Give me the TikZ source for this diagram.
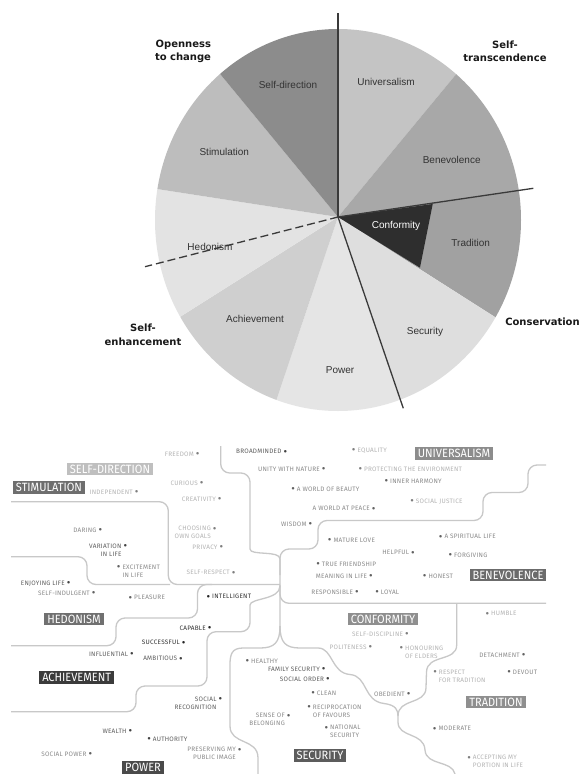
\documentclass[tikz,border=0pt]{standalone}
\usepackage{fontspec}
\setmainfont{Liberation Sans}
\newfontfamily\headfont{DejaVu Sans}
\newfontfamily\mapfont[LetterSpace=4]{Fira Sans}
\newfontfamily\tagfont[FakeStretch=0.92]{Fira Sans}

\definecolor{pieline}{HTML}{3A3A3A}
\definecolor{linegray}{HTML}{C8C8C8}
\definecolor{vlight}{HTML}{B4B4B4}
\definecolor{vmid}{HTML}{8A8A8A}
\definecolor{vdark}{HTML}{5E5E5E}
\definecolor{vblack}{HTML}{333333}

\newcommand{\mapdot}{\raisebox{-1.3pt}{\color{.!70!black}\fontsize{11}{11}\selectfont\textbullet}}
\newcommand{\rdot}{\rlap{\hspace{2pt}\mapdot}}
\newcommand{\ldot}{\llap{\mapdot\hspace{2pt}}}

\tikzset{
  pielbl/.style={font=\fontsize{10}{12}\selectfont, text=black!80},
  grouplbl/.style={font=\headfont\bfseries\fontsize{10}{13.5}\selectfont, text=black!90},
  tagbox/.style={fill=#1, text=white, font=\tagfont\fontsize{12}{12}\selectfont, inner xsep=3pt, inner ysep=2pt},
  val/.style={font=\mapfont\fontsize{6.4}{8}\selectfont, inner sep=0pt},
  route/.style={draw=linegray, line width=1.3pt, rounded corners=9pt},
  divider/.style={draw=pieline, line width=1.3pt},
}

\begin{document}
\begin{tikzpicture}[x=1pt, y=-1pt]
    \path[use as bounding box, fill=white] (0,0) rectangle (582,774);

    % Pie
    \coordinate (ctr) at (338,217);
    \begin{scope}
        \clip (338,220) ellipse [x radius=183, y radius=191];
        \foreach \a/\b/\col in {-90/-50.4/black!23, -50.4/-8.3/black!34, -8.3/32.5/black!37,
                                32.5/71.1/black!13, 71.1/108.6/black!10, 108.6/147.7/black!19,
                                147.7/188.8/black!11, 188.8/230.5/black!26, 230.5/270/black!45}
            \fill[\col] (ctr) -- ++(\a:260) arc[start angle=\a, end angle=\b, radius=260] -- cycle;
        \fill[black!82] (ctr) -- (432.7,204) -- (420,267.7) -- cycle;
    \end{scope}

    % Dividing lines
    \draw[divider] (338,13) -- (ctr);
    \draw[divider] (ctr) -- (533.3,188.3);
    \draw[divider] (ctr) -- (403.3,408.3);
    \draw[divider, dash pattern=on 8pt off 4pt] (ctr) -- (145,266.7);

    % Sector labels
    \node[pielbl] (pSelfdir) at (288,85) {Self-direction};
    \node[pielbl] (pUniv) at (386,82) {Universalism};
    \node[pielbl] (pBenev) at (451.7,160) {Benevolence};
    \node[pielbl, text=white] (pConf) at (396,226) {Conformity};
    \node[pielbl] (pTrad) at (470.7,242.7) {Tradition};
    \node[pielbl] (pSecur) at (425,331.7) {Security};
    \node[pielbl] (pPower) at (340,370) {Power};
    \node[pielbl] (pAchiev) at (255,319.3) {Achievement};
    \node[pielbl] (pHedon) at (210,246.7) {Hedonism};
    \node[pielbl] (pStim) at (224.3,151.7) {Stimulation};

    % Higher order labels
    \node[grouplbl, align=right] (gOpen) at (183,51.5) {Openness\\to change};
    \node[grouplbl, align=center] (gTrans) at (505,51.5) {Self-\\transcendence};
    \node[grouplbl] (gCons) at (542.5,321.7) {Conservation};
    \node[grouplbl, align=center] (gEnh) at (143,335) {Self-\\enhancement};

    % Map boundaries
    \draw[route] (11,501.7) -| (168.3,584.5) -- (280,584.5);
    \draw[route] (11,556.7) -| (87,584.5) -- (170,584.5);
    \draw[route] (212,584.5) -| (197.5,618) -| (116,645.7) -- (11,645.7);
    \draw[route] (280,586) .. controls (280,600) and (250,598) .. (250,614) |- (207,631.7) |- (136,686) |- (11,711.7);
    \draw[route] (220.7,446) |- (250,473) -- (250,540) .. controls (250,556) and (280,550) .. (280,568) -- (280,630);
    \draw[route] (280,575) |- (318,549) |- (483,520.5) |- (528,492.5) |- (546,465);
    \draw[route] (280,585) |- (546,603.3);
    \draw[route, sharp corners] (456.7,603.3) -- (456.7,645) .. controls (456.7,662) and (427,654) .. (426.5,672)
        -- (426,688) .. controls (425.5,705) and (398,698) .. (398,716) -- (398,722)
        .. controls (398,738) and (424,732) .. (425,750) .. controls (426,766) and (452,760) .. (455,774);
    \draw[route, sharp corners] (280,626) .. controls (280,643) and (286,648) .. (300,648) -- (318,648)
        .. controls (333,648) and (331,673) .. (350,674.5) .. controls (368,676) and (363,701) .. (384,703.5)
        .. controls (396,705) and (398,710) .. (398,716);
    \draw[route, sharp corners] (280,626) .. controls (280,643) and (274,648) .. (260,648) -- (243,648)
        .. controls (232,648) and (230,654) .. (230,665) -- (230,726)
        .. controls (230,745) and (258,738) .. (258,758) -- (258,774);

    % Value group tags
    \node[tagbox=black!25] (tSelfdir) at (110,469) {SELF-DIRECTION};
    \node[tagbox=black!57] (tStim) at (49,487.7) {STIMULATION};
    \node[tagbox=black!45] (tUniv) at (454,453.7) {UNIVERSALISM};
    \node[tagbox=black!58] (tBenev) at (508,575) {BENEVOLENCE};
    \node[tagbox=black!56] (tHedon) at (74,619) {HEDONISM};
    \node[tagbox=black!77] (tAchiev) at (76.7,677.5) {ACHIEVEMENT};
    \node[tagbox=black!44] (tConf) at (383,619) {CONFORMITY};
    \node[tagbox=black!64] (tSecur) at (320,755.7) {SECURITY};
    \node[tagbox=black!44] (tTrad) at (496,702) {TRADITION};
    \node[tagbox=black!71] (tPower) at (143,767.5) {POWER};

    % Values, dot after the text
    \node[val, vlight, anchor=east] (freedom) at (194,455) {FREEDOM\rdot};
    \node[val, vlight, anchor=east] (independent) at (133,492.7) {INDEPENDENT\rdot};
    \node[val, vlight, anchor=east] (curious) at (198,484) {CURIOUS\rdot};
    \node[val, vlight, anchor=east] (creativity) at (216,500) {CREATIVITY\rdot};
    \node[val, vlight, anchor=north east, align=right] (goals) at (211,526.1) {CHOOSING\rdot\\OWN GOALS};
    \node[val, vlight, anchor=east] (privacy) at (217.7,547.7) {PRIVACY\rdot};
    \node[val, vlight, anchor=east] (selfrespect) at (230,573.3) {SELF-RESPECT\rdot};
    \node[val, vmid, anchor=east] (daring) at (96.7,530.7) {DARING\rdot};
    \node[val, vdark, anchor=north east, align=right] (variation) at (121.7,543.8) {VARIATION\rdot\\IN LIFE};
    \node[val, vdark, anchor=east] (enjoying) at (65,584) {ENJOYING LIFE\rdot};
    \node[val, vmid, anchor=east] (indulgent) at (90,594) {SELF-INDULGENT\rdot};
    \node[val, vdark, anchor=east] (broadminded) at (281.7,452.3) {BROADMINDED\rdot};
    \node[val, vmid, anchor=east] (unity) at (320,470) {UNITY WITH NATURE\rdot};
    \node[val, vmid, anchor=east] (wisdom) at (306.7,524.5) {WISDOM\rdot};
    \node[val, vmid, anchor=east] (peace) at (370,509.3) {A WORLD AT PEACE\rdot};
    \node[val, vmid, anchor=east] (helpful) at (409.3,553.3) {HELPFUL\rdot};
    \node[val, vmid, anchor=east] (meaning) at (367.3,576.7) {MEANING IN LIFE\rdot};
    \node[val, vmid, anchor=east] (responsible) at (353.3,592.7) {RESPONSIBLE\rdot};
    \node[val, vblack, anchor=east] (capable) at (206,628.7) {CAPABLE\rdot};
    \node[val, vblack, anchor=east] (successful) at (180,643.3) {SUCCESSFUL\rdot};
    \node[val, vdark, anchor=east] (influential) at (128.3,655) {INFLUENTIAL\rdot};
    \node[val, vdark, anchor=east] (ambitious) at (177.3,659.3) {AMBITIOUS\rdot};
    \node[val, vdark, anchor=north east, align=right] (recognition) at (216.7,696.5) {SOCIAL\rdot\\RECOGNITION};
    \node[val, vdark, anchor=east] (wealth) at (126.7,731.7) {WEALTH\rdot};
    \node[val, vmid, anchor=north east, align=right] (image) at (236,747.1) {PRESERVING MY\rdot\\PUBLIC IMAGE};
    \node[val, vmid, anchor=east] (socialpower) at (86.7,755) {SOCIAL POWER\rdot};
    \node[val, vdark, anchor=east] (familysec) at (320,670) {FAMILY SECURITY\rdot};
    \node[val, vdark, anchor=east] (order) at (324.3,680) {SOCIAL ORDER\rdot};
    \node[val, vmid, anchor=north east, align=right] (belonging) at (285,713.1) {SENSE OF\rdot\\BELONGING};
    \node[val, vlight, anchor=east] (discipline) at (403.3,635) {SELF-DISCIPLINE\rdot};
    \node[val, vlight, anchor=east] (politeness) at (366.7,647.7) {POLITENESS\rdot};
    \node[val, vmid, anchor=east] (detachment) at (520,656) {DETACHMENT\rdot};
    \node[val, vmid, anchor=east] (obedient) at (405,695) {OBEDIENT\rdot};

    % Values, dot before the text
    \node[val, vmid, anchor=north west, align=left] (excitement) at (122.3,564.5) {\ldot EXCITEMENT\\IN LIFE};
    \node[val, vmid, anchor=west] (pleasure) at (134,598.3) {\ldot PLEASURE};
    \node[val, vblack, anchor=west] (intelligent) at (212,597.3) {\ldot INTELLIGENT};
    \node[val, vmid, anchor=west] (beauty) at (296.7,490) {\ldot A WORLD OF BEAUTY};
    \node[val, vlight, anchor=west] (equality) at (357.3,450.7) {\ldot EQUALITY};
    \node[val, vlight, anchor=west] (environment) at (364,470) {\ldot PROTECTING THE ENVIRONMENT};
    \node[val, vmid, anchor=west] (harmony) at (390,481.7) {\ldot INNER HARMONY};
    \node[val, vlight, anchor=west] (justice) at (415.7,501.7) {\ldot SOCIAL JUSTICE};
    \node[val, vmid, anchor=west] (love) at (333.3,541) {\ldot MATURE LOVE};
    \node[val, vmid, anchor=west] (spiritual) at (444.3,537.3) {\ldot A SPIRITUAL LIFE};
    \node[val, vmid, anchor=west] (forgiving) at (454,556) {\ldot FORGIVING};
    \node[val, vmid, anchor=west] (friendship) at (321.7,565) {\ldot TRUE FRIENDSHIP};
    \node[val, vmid, anchor=west] (honest) at (428.3,576.7) {\ldot HONEST};
    \node[val, vmid, anchor=west] (loyal) at (380.7,592.7) {\ldot LOYAL};
    \node[val, vdark, anchor=west] (authority) at (152.7,740) {\ldot AUTHORITY};
    \node[val, vmid, anchor=west] (healthy) at (251,661.7) {\ldot HEALTHY};
    \node[val, vmid, anchor=west] (clean) at (316.7,693.7) {\ldot CLEAN};
    \node[val, vmid, anchor=north west, align=left] (favours) at (312.7,704.5) {\ldot RECIPROCATION\\OF FAVOURS};
    \node[val, vmid, anchor=north west, align=left] (natsec) at (330,725.1) {\ldot NATIONAL\\SECURITY};
    \node[val, vlight, anchor=west] (humble) at (491,614.3) {\ldot HUMBLE};
    \node[val, vlight, anchor=north west, align=left] (elders) at (405,645.5) {\ldot HONOURING\\OF ELDERS};
    \node[val, vmid, anchor=west] (devout) at (512.7,672.7) {\ldot DEVOUT};
    \node[val, vlight, anchor=north west, align=left] (respect) at (438.7,669.8) {\ldot RESPECT\\FOR TRADITION};
    \node[val, vmid, anchor=west] (moderate) at (438.3,729.3) {\ldot MODERATE};
    \node[val, vlight, anchor=north west, align=left] (accepting) at (472.7,755.1) {\ldot ACCEPTING MY\\PORTION IN LIFE};

\end{tikzpicture}
\end{document}
